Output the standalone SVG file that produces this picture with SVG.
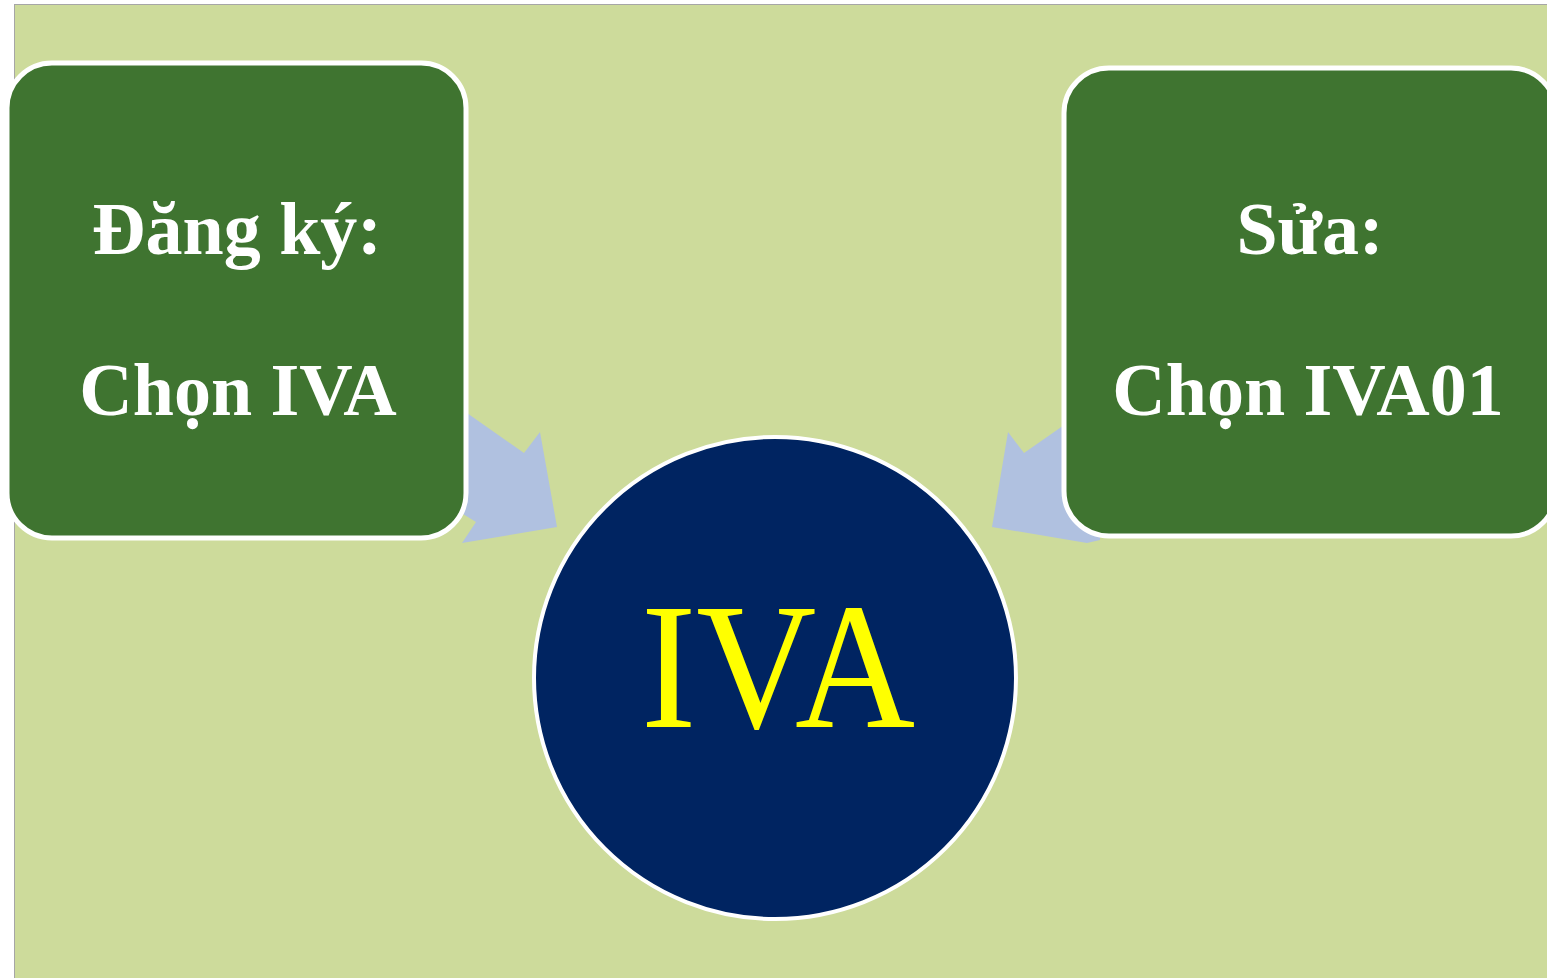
<svg xmlns="http://www.w3.org/2000/svg" width="1547" height="978" viewBox="0 0 1547 978">
<style>
.box{fill:#3F7430;stroke:#FFFFFF;stroke-width:5}
.lbl{font-family:"Liberation Serif","Times New Roman",serif;font-weight:bold;font-size:74px;fill:#FFFFFF;text-anchor:middle}
.arr{fill:#B0C1E0}
</style>
<rect x="0" y="0" width="1547" height="978" fill="#FFFFFF"/>
<rect x="14.5" y="4.5" width="1540" height="980" fill="#CDDB9B" stroke="#A6A6A6" stroke-width="1"/>
<g id="connectors">
<polygon class="arr" points="430,387 524,453 540,432 557,527 462,543 476,522 440,500"/>
<polygon class="arr" points="1100,400 1024,453 1008,432 992,527 1087,543 1100,540"/>
</g>
<g id="node-register">
<rect class="box" x="7" y="63" width="459" height="475" rx="45" ry="45"/>
<text class="lbl" x="237" y="254">Đăng ký:</text>
<text class="lbl" x="238" y="415">Chọn IVA</text>
</g>
<g id="node-edit">
<rect class="box" x="1064" y="68" width="492" height="468" rx="45" ry="45"/>
<text class="lbl" x="1310" y="254">Sửa:</text>
<text class="lbl" x="1308" y="415">Chọn IVA01</text>
</g>
<g id="node-iva">
<circle cx="775" cy="678" r="241" fill="#002461" stroke="#FFFFFF" stroke-width="4"/>
<text x="778" y="727" font-family="'Liberation Serif','Times New Roman',serif" font-size="180" fill="#FFFF00" text-anchor="middle" textLength="274" lengthAdjust="spacingAndGlyphs">IVA</text>
</g>
</svg>
